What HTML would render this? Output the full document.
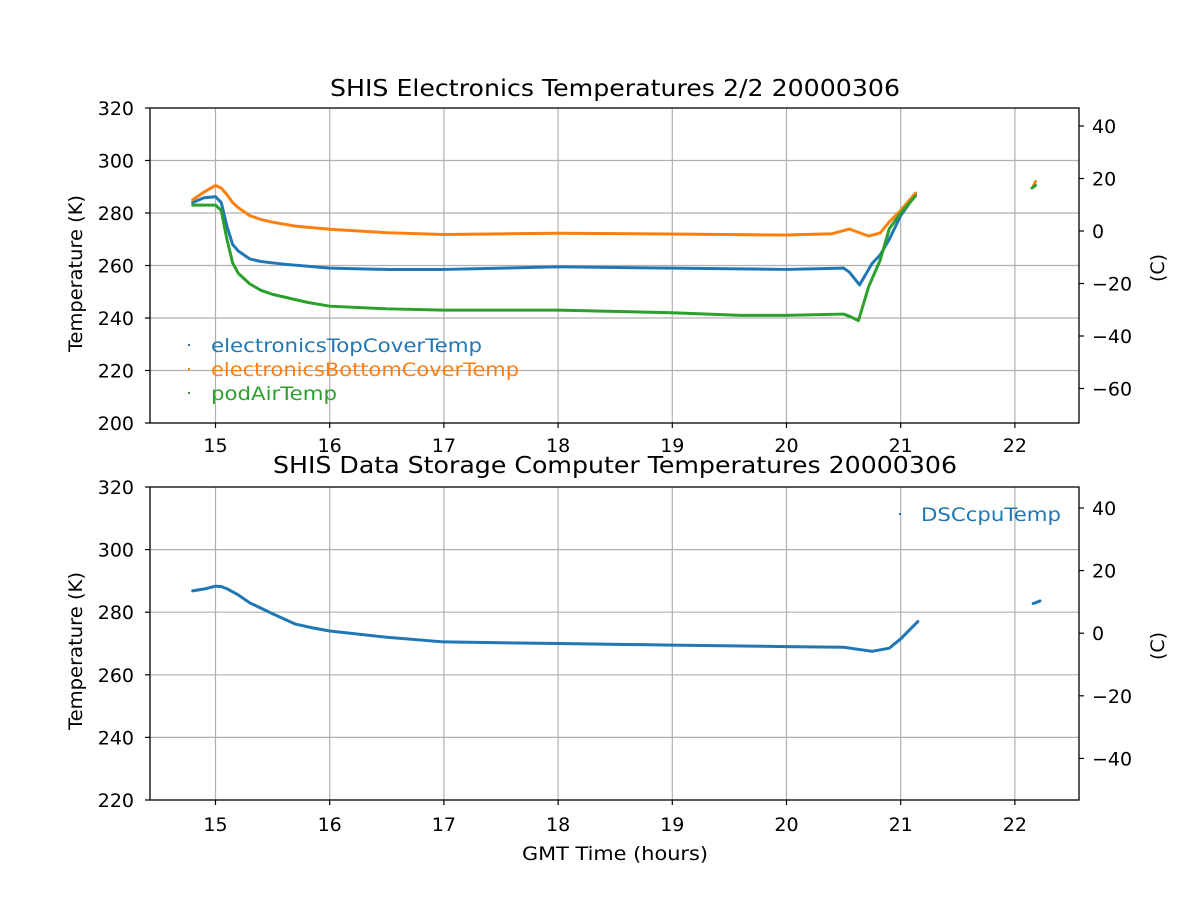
<!DOCTYPE html>
<html><head><meta charset="utf-8"><style>
body{margin:0;background:#fff}
svg text{font-family:"DejaVu Sans","Liberation Sans",sans-serif;fill:#000}
.t{font-size:19px}
.ti{font-size:23px}
.g{stroke:#b0b0b0;stroke-width:1.2}
.d{fill:none;stroke-width:3;vector-effect:non-scaling-stroke;stroke-linejoin:round;stroke-linecap:round}
</style></head><body>
<svg width="1200" height="900" xmlns="http://www.w3.org/2000/svg">
<rect width="1200" height="900" fill="#fff"/>
<g class="g">
<line x1="215.5" y1="108" x2="215.5" y2="423"/><line x1="329.7" y1="108" x2="329.7" y2="423"/><line x1="443.9" y1="108" x2="443.9" y2="423"/><line x1="558.1" y1="108" x2="558.1" y2="423"/><line x1="672.3" y1="108" x2="672.3" y2="423"/><line x1="786.5" y1="108" x2="786.5" y2="423"/><line x1="900.7" y1="108" x2="900.7" y2="423"/><line x1="1014.9" y1="108" x2="1014.9" y2="423"/>
<line x1="150" y1="160.5" x2="1079" y2="160.5"/><line x1="150" y1="213" x2="1079" y2="213"/><line x1="150" y1="265.5" x2="1079" y2="265.5"/><line x1="150" y1="318" x2="1079" y2="318"/><line x1="150" y1="370.5" x2="1079" y2="370.5"/>
</g>
<g transform="matrix(114.2 0 0 -2.625 -1497.5 948)">
<polyline class="d" stroke="#1f77b4" points="14.8,284 14.9,285.8 15,286.2 15.05,284 15.1,275 15.15,268 15.2,265.5 15.3,262.5 15.4,261.5 15.6,260.5 16,259 16.5,258.5 17,258.5 18,259.5 19,259 20,258.5 20.5,259 20.55,257.5 20.64,252.6 20.75,260.8 20.82,264 20.9,270 21,279 21.13,287"/>
<polyline class="d" stroke="#ff7f0e" points="14.8,285 14.9,288 15,290.5 15.05,289.5 15.1,287 15.15,284 15.2,282 15.3,279 15.4,277.5 15.5,276.5 15.7,275 16,273.8 16.5,272.5 17,271.8 18,272.3 19,272 20,271.6 20.4,272.1 20.55,273.9 20.72,271.2 20.82,272.4 20.9,276.6 21,281 21.13,287.6"/>
<polyline class="d" stroke="#2ca02c" points="14.8,283 15,283 15.05,281 15.1,270 15.15,261 15.2,257 15.3,253 15.4,250.5 15.5,249 15.8,246 16,244.5 16.5,243.5 17,243 18,243 19,242 19.6,241 20,241 20.5,241.5 20.56,240.5 20.63,239 20.72,252 20.82,262 20.9,274 21,280 21.13,286.5"/>
<polyline class="d" stroke="#ff7f0e" points="22.16,290 22.18,292"/>
<polyline class="d" stroke="#2ca02c" points="22.15,289.5 22.18,290.5"/>
</g>
<rect x="150" y="108" width="929" height="315" fill="none" stroke="#000" stroke-width="1.3"/>
<g stroke="#000" stroke-width="1.2">
<line x1="215.5" y1="423" x2="215.5" y2="428"/><line x1="329.7" y1="423" x2="329.7" y2="428"/><line x1="443.9" y1="423" x2="443.9" y2="428"/><line x1="558.1" y1="423" x2="558.1" y2="428"/><line x1="672.3" y1="423" x2="672.3" y2="428"/><line x1="786.5" y1="423" x2="786.5" y2="428"/><line x1="900.7" y1="423" x2="900.7" y2="428"/><line x1="1014.9" y1="423" x2="1014.9" y2="428"/>
<line x1="145" y1="108" x2="150" y2="108"/><line x1="145" y1="160.5" x2="150" y2="160.5"/><line x1="145" y1="213" x2="150" y2="213"/><line x1="145" y1="265.5" x2="150" y2="265.5"/><line x1="145" y1="318" x2="150" y2="318"/><line x1="145" y1="370.5" x2="150" y2="370.5"/><line x1="145" y1="423" x2="150" y2="423"/>
<line x1="1079" y1="126" x2="1084" y2="126"/><line x1="1079" y1="178.5" x2="1084" y2="178.5"/><line x1="1079" y1="231" x2="1084" y2="231"/><line x1="1079" y1="283.5" x2="1084" y2="283.5"/><line x1="1079" y1="336" x2="1084" y2="336"/><line x1="1079" y1="388.5" x2="1084" y2="388.5"/>
</g>
<g class="t" text-anchor="end">
<text x="134" y="115">320</text><text x="134" y="167.5">300</text><text x="134" y="220">280</text><text x="134" y="272.5">260</text><text x="134" y="325">240</text><text x="134" y="377.5">220</text><text x="134" y="430">200</text>
</g>
<g class="t">
<text x="1092" y="133">40</text><text x="1092" y="185.5">20</text><text x="1092" y="238">0</text><text x="1092" y="290.5">−20</text><text x="1092" y="343">−40</text><text x="1092" y="395.5">−60</text>
</g>
<g class="t" text-anchor="middle">
<text x="215.5" y="452">15</text><text x="329.7" y="452">16</text><text x="443.9" y="452">17</text><text x="558.1" y="452">18</text><text x="672.3" y="452">19</text><text x="786.5" y="452">20</text><text x="900.7" y="452">21</text><text x="1014.9" y="452">22</text>
</g>
<text class="ti" x="330" y="96" textLength="570" lengthAdjust="spacingAndGlyphs">SHIS Electronics Temperatures 2/2 20000306</text>
<text class="t" transform="translate(82,352) rotate(-90)" textLength="157" lengthAdjust="spacingAndGlyphs">Temperature (K)</text>
<text class="t" transform="translate(1164,282) rotate(-90)">(C)</text>
<g class="t">
<rect x="188" y="344" width="2" height="2" fill="#1f77b4"/><text x="211" y="352" style="fill:#1f77b4" textLength="271" lengthAdjust="spacingAndGlyphs">electronicsTopCoverTemp</text>
<rect x="188" y="368" width="2" height="2" fill="#ff7f0e"/><text x="211" y="376" style="fill:#ff7f0e" textLength="308" lengthAdjust="spacingAndGlyphs">electronicsBottomCoverTemp</text>
<rect x="188" y="392" width="2" height="2" fill="#2ca02c"/><text x="211" y="400" style="fill:#2ca02c" textLength="126" lengthAdjust="spacingAndGlyphs">podAirTemp</text>
</g>
<g class="g">
<line x1="215.5" y1="487" x2="215.5" y2="800"/><line x1="329.7" y1="487" x2="329.7" y2="800"/><line x1="443.9" y1="487" x2="443.9" y2="800"/><line x1="558.1" y1="487" x2="558.1" y2="800"/><line x1="672.3" y1="487" x2="672.3" y2="800"/><line x1="786.5" y1="487" x2="786.5" y2="800"/><line x1="900.7" y1="487" x2="900.7" y2="800"/><line x1="1014.9" y1="487" x2="1014.9" y2="800"/>
<line x1="150" y1="549.6" x2="1079" y2="549.6"/><line x1="150" y1="612.2" x2="1079" y2="612.2"/><line x1="150" y1="674.8" x2="1079" y2="674.8"/><line x1="150" y1="737.4" x2="1079" y2="737.4"/>
</g>
<g transform="matrix(114.2 0 0 -3.13 -1497.5 1488.6)">
<polyline class="d" stroke="#1f77b4" points="14.8,286.8 14.9,287.4 15,288.3 15.05,288.2 15.1,287.5 15.2,285.5 15.3,283 15.5,279.5 15.7,276.2 15.85,275 16,274 16.5,272 17,270.5 18,270 19,269.5 20,269 20.5,268.8 20.75,267.5 20.9,268.5 21,271.5 21.15,277"/>
<polyline class="d" stroke="#1f77b4" points="22.16,282.8 22.18,283 22.22,283.6"/>
</g>
<rect x="150" y="487" width="929" height="313" fill="none" stroke="#000" stroke-width="1.3"/>
<g stroke="#000" stroke-width="1.2">
<line x1="215.5" y1="800" x2="215.5" y2="805"/><line x1="329.7" y1="800" x2="329.7" y2="805"/><line x1="443.9" y1="800" x2="443.9" y2="805"/><line x1="558.1" y1="800" x2="558.1" y2="805"/><line x1="672.3" y1="800" x2="672.3" y2="805"/><line x1="786.5" y1="800" x2="786.5" y2="805"/><line x1="900.7" y1="800" x2="900.7" y2="805"/><line x1="1014.9" y1="800" x2="1014.9" y2="805"/>
<line x1="145" y1="487" x2="150" y2="487"/><line x1="145" y1="549.6" x2="150" y2="549.6"/><line x1="145" y1="612.2" x2="150" y2="612.2"/><line x1="145" y1="674.8" x2="150" y2="674.8"/><line x1="145" y1="737.4" x2="150" y2="737.4"/><line x1="145" y1="800" x2="150" y2="800"/>
<line x1="1079" y1="508" x2="1084" y2="508"/><line x1="1079" y1="570.6" x2="1084" y2="570.6"/><line x1="1079" y1="633.2" x2="1084" y2="633.2"/><line x1="1079" y1="695.8" x2="1084" y2="695.8"/><line x1="1079" y1="758.4" x2="1084" y2="758.4"/>
</g>
<g class="t" text-anchor="end">
<text x="134" y="494">320</text><text x="134" y="556.6">300</text><text x="134" y="619.2">280</text><text x="134" y="681.8">260</text><text x="134" y="744.4">240</text><text x="134" y="807">220</text>
</g>
<g class="t">
<text x="1092" y="515">40</text><text x="1092" y="577.6">20</text><text x="1092" y="640.2">0</text><text x="1092" y="702.8">−20</text><text x="1092" y="765.4">−40</text>
</g>
<g class="t" text-anchor="middle">
<text x="215.5" y="831">15</text><text x="329.7" y="831">16</text><text x="443.9" y="831">17</text><text x="558.1" y="831">18</text><text x="672.3" y="831">19</text><text x="786.5" y="831">20</text><text x="900.7" y="831">21</text><text x="1014.9" y="831">22</text>
</g>
<text class="ti" x="273" y="473" textLength="684" lengthAdjust="spacingAndGlyphs">SHIS Data Storage Computer Temperatures 20000306</text>
<text class="t" x="522" y="860" textLength="186" lengthAdjust="spacingAndGlyphs">GMT Time (hours)</text>
<text class="t" transform="translate(82,730) rotate(-90)" textLength="158" lengthAdjust="spacingAndGlyphs">Temperature (K)</text>
<text class="t" transform="translate(1164,660) rotate(-90)">(C)</text>
<rect x="899" y="513" width="2" height="2" fill="#1f77b4"/><text class="t" x="921" y="521" style="fill:#1f77b4" textLength="140" lengthAdjust="spacingAndGlyphs">DSCcpuTemp</text>
</svg>
</body></html>
